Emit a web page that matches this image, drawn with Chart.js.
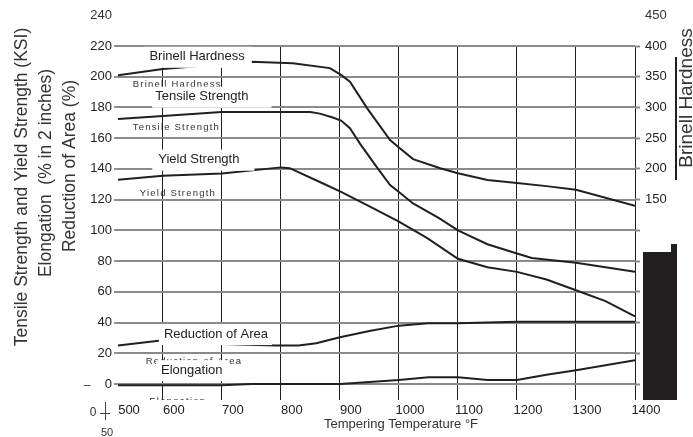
<!DOCTYPE html>
<html>
<head>
<meta charset="utf-8">
<title>Tempering Temperature vs Strength</title>
<script src="https://cdn.jsdelivr.net/npm/chart.js@4/dist/chart.umd.min.js"></script>
<style>
  html, body { margin: 0; padding: 0; background: #fff; }
  #chart { display: block; }
</style>
</head>
<body>
<canvas id="chart" width="693" height="437"></canvas>
<script>
/* Tempering curves: strength (KSI, left), hardness (HB, right), elongation / RoA (%) */

// x axis: the picture's left edge sits a little past 500, the "500" label marks it
const X_MIN = 524;
const X_MAX = 1400;
const xTickValues = [524, 600, 700, 800, 900, 1000, 1100, 1200, 1300, 1400];
const xTickLabels = ['500', '600', '700', '800', '900', '1000', '1100', '1200', '1300', '1400'];

const Y_MIN = -10.4;
const Y_MAX = 220;
const yTicks = [0, 20, 40, 60, 80, 100, 120, 140, 160, 180, 200, 220];
const hbTickLabels = [150, 200, 250, 300, 350, 400];

// Brinell hardness (right axis)
const brinellTemp = [524, 600, 750, 820, 883, 902, 917, 946, 985, 1000, 1024, 1070, 1100, 1150, 1200, 1250, 1300, 1400];
const brinellHB   = [352.5, 362.5, 374.5, 372, 364, 353, 342, 299, 247, 235, 216, 201, 193, 182, 177, 172, 166, 140];

// Tensile strength (KSI)
const tensileTemp = [524, 600, 700, 850, 866, 888, 902, 917, 934, 960, 985, 1000, 1024, 1068, 1100, 1150, 1200, 1225, 1300, 1400];
const tensileKsi  = [172.5, 174.5, 177, 177, 176, 173.5, 171.5, 166.5, 156.5, 142.5, 129.5, 125, 117.5, 108, 100, 91, 85, 82, 79, 73];

// Yield strength (KSI)
const yieldTemp = [524, 600, 700, 800, 815, 866, 902, 951, 1000, 1048, 1100, 1150, 1200, 1250, 1300, 1350, 1400];
const yieldKsi  = [133, 135.5, 137, 141, 140.5, 131.5, 125, 115.5, 105.7, 95, 81.5, 76, 73, 68, 61, 54, 44];

// Reduction of area (%)
const roaTemp = [524, 600, 700, 790, 830, 860, 900, 950, 1000, 1050, 1100, 1200, 1400];
const roaPct  = [25, 28.5, 26, 25, 25, 26.5, 30.5, 34.5, 38, 39.5, 39.5, 40.5, 40.5];

// Elongation (% in 2 inches)
const elongTemp = [524, 700, 750, 900, 1000, 1050, 1100, 1150, 1200, 1250, 1300, 1400];
const elongPct  = [-0.8, -0.8, 0, 0, 2.6, 4.4, 4.4, 2.6, 2.6, 6, 9, 15.5];

// left value -> right (HB) value (120 KSI = 150 HB, 220 KSI = 400 HB)
const toHB = v => 150 + (v - 120) * 2.5;

const pts = (xs, ys) => xs.map((x, i) => ({ x, y: ys[i] }));

const FONT = "'Liberation Sans', Arial, sans-serif";
const INK = '#231f20';
const GRID_GRAY = '#8a8a8a';

// curve labels (boxed) and the faint duplicate labels, placed in data units
const curveLabels = [
  { text: 'Brinell Hardness',  x: 658, y: 213, padL: 5, padR: 7 },
  { text: 'Tensile Strength',  x: 666, y: 187, padL: 3, padR: 23 },
  { text: 'Yield Strength',    x: 661, y: 146, padL: 6, padR: 15 },
  { text: 'Reduction of Area', x: 690, y: 32.5, padL: 5, padR: 4 },
  { text: 'Elongation',        x: 649, y: 9, padL: 5, padR: 5 },
];
const ghostLabels = [
  { text: 'Brinell Hardness',  x: 549, y: 194.7 },
  { text: 'Tensile Strength',  x: 549, y: 167 },
  { text: 'Yield Strength',    x: 561, y: 124 },
  { text: 'Reduction of Area', x: 571, y: 15 },
  { text: 'Elongation',        x: 577, y: -11.5 },
];

const ghostPlugin = {
  id: 'ghosts',
  beforeDraw(chart) {
    const { ctx, chartArea: a, scales: { x, y } } = chart;
    ctx.save();
    ctx.beginPath();
    ctx.rect(a.left, a.top, a.right - a.left, a.bottom - a.top);
    ctx.clip();
    ctx.font = '9.5px ' + FONT;
    ctx.letterSpacing = '1.2px';
    ctx.fillStyle = '#333';
    ctx.textAlign = 'left';
    ctx.textBaseline = 'middle';
    ghostLabels.forEach(l => ctx.fillText(l.text, x.getPixelForValue(l.x), y.getPixelForValue(l.y)));
    ctx.restore();
  }
};

const labelPlugin = {
  id: 'curveLabels',
  afterDatasetsDraw(chart) {
    const { ctx, scales: { x, y } } = chart;
    ctx.save();
    ctx.font = '13px ' + FONT;
    ctx.textAlign = 'center';
    ctx.textBaseline = 'middle';
    curveLabels.forEach(l => {
      const px = x.getPixelForValue(l.x), py = y.getPixelForValue(l.y);
      const w = ctx.measureText(l.text).width;
      ctx.fillStyle = '#fff';
      ctx.fillRect(px - w / 2 - l.padL, py - 10, w + l.padL + l.padR, 21);
      ctx.fillStyle = '#222';
      ctx.fillText(l.text, px, py);
    });
    ctx.restore();
  }
};

const decorPlugin = {
  id: 'decor',
  afterDraw(chart) {
    const { ctx, chartArea: a, scales: { x, y, y2 } } = chart;
    ctx.save();
    ctx.fillStyle = '#333';

    // top tick labels past the plot
    ctx.font = '13px ' + FONT;
    ctx.textBaseline = 'middle';
    ctx.textAlign = 'right';
    ctx.fillText('240', a.left - 6, y.getPixelForValue(240));
    ctx.textAlign = 'left';
    ctx.fillText('450', a.right + 10, y2.getPixelForValue(450));

    // x title
    ctx.textAlign = 'center';
    ctx.fillText('Tempering Temperature °F', 401, 424);

    // left titles
    const leftTitles = [
      { text: 'Tensile Strength and Yield Strength (KSI)', cx: 22, cy: 187 },
      { text: 'Elongation  (% in 2 inches)', cx: 46, cy: 173 },
      { text: 'Reduction of Area (%)', cx: 70, cy: 166 },
    ];
    ctx.font = '17.5px ' + FONT;
    leftTitles.forEach(t => {
      ctx.save();
      ctx.translate(t.cx, t.cy);
      ctx.rotate(-Math.PI / 2);
      ctx.textAlign = 'center';
      ctx.textBaseline = 'middle';
      ctx.fillText(t.text, 0, 0);
      ctx.restore();
    });

    // right title with its rule
    ctx.save();
    ctx.font = '19px ' + FONT;
    ctx.translate(692, 98);
    ctx.rotate(-Math.PI / 2);
    ctx.textAlign = 'center';
    ctx.textBaseline = 'alphabetic';
    ctx.fillText('Brinell Hardness', 0, 0);
    ctx.restore();
    ctx.fillStyle = INK;
    ctx.fillRect(675, 57, 2, 123);

    // dark block under the right scale
    ctx.fillRect(643, 252, 28, 148);
    ctx.fillRect(671, 244, 6, 156);

    // stray marks at the lower left corner
    ctx.fillStyle = '#333';
    ctx.font = '12px ' + FONT;
    ctx.textAlign = 'center';
    ctx.textBaseline = 'middle';
    ctx.fillText('–', 87, 386);
    ctx.fillText('0', 93, 413);
    ctx.strokeStyle = '#444';
    ctx.lineWidth = 1;
    ctx.beginPath();
    ctx.moveTo(105.5, 402); ctx.lineTo(105.5, 420);
    ctx.moveTo(100, 413.5); ctx.lineTo(110, 413.5);
    ctx.stroke();
    ctx.beginPath();
    ctx.rect(95, 420, 18, 17);
    ctx.clip();
    ctx.font = '11px ' + FONT;
    ctx.textAlign = 'left';
    ctx.textBaseline = 'alphabetic';
    ctx.fillText('500', 101, 436);
    ctx.restore();
  }
};

const line = (data, yAxisID) => ({
  data, yAxisID,
  borderColor: INK, borderWidth: 2,
  pointRadius: 0, tension: 0, fill: false
});

new Chart(document.getElementById('chart'), {
  type: 'line',
  data: {
    datasets: [
      line(pts(brinellTemp, brinellHB), 'y2'),
      line(pts(tensileTemp, tensileKsi), 'y'),
      line(pts(yieldTemp, yieldKsi), 'y'),
      line(pts(roaTemp, roaPct), 'y'),
      line(pts(elongTemp, elongPct), 'y'),
    ]
  },
  options: {
    responsive: false,
    animation: false,
    layout: { padding: { top: 46, left: 0, right: 0, bottom: 0 } },
    plugins: { legend: { display: false }, tooltip: { enabled: false } },
    scales: {
      x: {
        type: 'linear', min: X_MIN, max: X_MAX,
        border: { display: false },
        grid: {
          color: ctx => ctx.index === 0 ? 'rgba(0,0,0,0)' : INK,
          lineWidth: 1, drawTicks: false
        },
        ticks: {
          autoSkip: false, maxRotation: 0, padding: 3, labelOffset: 11,
          color: '#222', font: { family: FONT, size: 13 },
          callback: (v, i) => xTickLabels[i]
        },
        afterBuildTicks: s => { s.ticks = xTickValues.map(value => ({ value })); },
        afterFit: s => { s.height = 37; }
      },
      y: {
        position: 'left', min: Y_MIN, max: Y_MAX,
        border: { display: false },
        grid: { color: GRID_GRAY, lineWidth: 2, tickColor: '#222', tickLength: 4, tickWidth: 1 },
        ticks: { padding: 2, color: '#222', font: { family: FONT, size: 13 } },
        afterBuildTicks: s => { s.ticks = yTicks.map(value => ({ value })); },
        afterFit: s => { s.width = 118; }
      },
      y2: {
        position: 'right', min: toHB(Y_MIN), max: toHB(Y_MAX),
        border: { display: false },
        grid: { drawOnChartArea: false, tickColor: GRID_GRAY, tickLength: 5, tickWidth: 2 },
        ticks: {
          padding: 5, color: '#222', font: { family: FONT, size: 13 },
          callback: v => hbTickLabels.includes(v) ? String(v) : ''
        },
        afterBuildTicks: s => { s.ticks = yTicks.map(v => ({ value: toHB(v) })); },
        afterFit: s => { s.width = 58; }
      }
    }
  },
  plugins: [ghostPlugin, labelPlugin, decorPlugin]
});
</script>
</body>
</html>
